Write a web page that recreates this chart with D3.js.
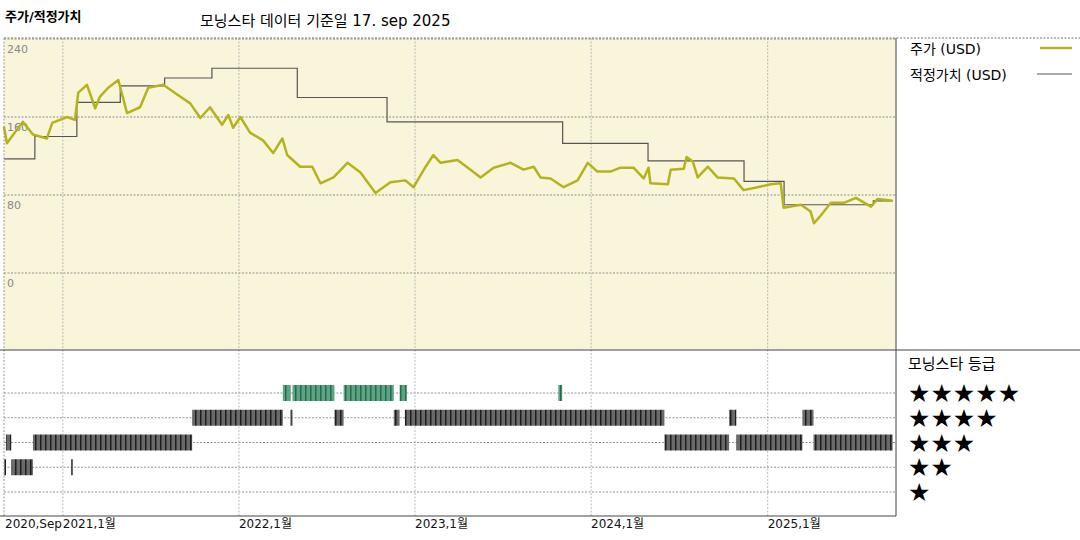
<!DOCTYPE html>
<html><head><meta charset="utf-8">
<script src="https://cdn.jsdelivr.net/npm/d3@7"></script>
<style>body{margin:0;background:#fff}svg{font-family:"DejaVu Sans","Noto Sans CJK KR",sans-serif}</style>
</head><body><svg id="c" width="1080" height="540"></svg>
<script>
// price (USD)
var priceDates = ["2020-09-01","2020-09-07","2020-10-10","2020-10-31","2020-11-29","2020-12-10","2021-01-10","2021-01-26","2021-02-02","2021-02-20","2021-03-09","2021-03-19","2021-04-05","2021-04-26","2021-05-14","2021-06-10","2021-06-27","2021-07-28","2021-08-26","2021-09-22","2021-10-13","2021-11-02","2021-11-27","2021-12-10","2021-12-20","2022-01-04","2022-01-24","2022-02-20","2022-03-13","2022-04-01","2022-04-11","2022-05-08","2022-06-02","2022-06-19","2022-07-16","2022-08-14","2022-09-10","2022-10-11","2022-11-11","2022-12-12","2022-12-29","2023-01-23","2023-02-08","2023-02-23","2023-03-30","2023-04-26","2023-05-17","2023-06-13","2023-07-18","2023-08-14","2023-09-04","2023-09-18","2023-10-09","2023-11-05","2023-12-04","2023-12-25","2024-01-14","2024-02-10","2024-03-02","2024-03-29","2024-04-19","2024-04-29","2024-05-03","2024-06-08","2024-06-14","2024-07-11","2024-07-17","2024-07-30","2024-08-09","2024-08-30","2024-09-19","2024-10-23","2024-11-12","2024-12-11","2025-01-07","2025-01-28","2025-02-03","2025-03-11","2025-03-31","2025-04-07","2025-04-21","2025-05-12","2025-06-08","2025-07-03","2025-08-03","2025-08-17","2025-09-17"];
var priceValues = [150,133,155,142,138,154,160,157,185,193,169,181,190,198,164,170,190,193,183,174,159,170,152,162,149,160,144,136,123,138,121,109,109,92,98,113,103,82,93,95,88,109,121,113,116,106,98,108,113,106,109,98,97,88,95,113,104,104,108,108,97,108,92,91,106,107,119,114,98,109,98,97,85,88,91,92,67,70,63,51,59,72,72,77,68,76,74];

// fair value (USD), step changes
var fairDates = ["2020-09-01","2020-11-04","2021-01-30","2021-04-30","2021-07-31","2021-11-06","2022-05-02","2022-11-04","2023-11-03","2024-04-28","2024-11-13","2025-02-04","2025-08-08","2025-09-17"];
var fairValues = [117,140,175,192,200,210,180,155,133,115,94,70,74,74];

// star rating periods [stars, from, to]
var ratingSpans = [
  [5,"2022-04-02","2022-04-18"],[5,"2022-04-22","2022-07-18"],[5,"2022-08-06","2022-11-18"],[5,"2022-11-30","2022-12-15"],[5,"2023-10-25","2023-11-02"],
  [4,"2021-09-26","2022-04-02"],[4,"2022-04-18","2022-04-22"],[4,"2022-07-18","2022-08-06"],[4,"2022-11-18","2022-11-30"],[4,"2022-12-11","2024-06-01"],[4,"2024-10-13","2024-10-28"],[4,"2025-03-14","2025-04-06"],
  [3,"2020-09-05","2020-09-16"],[3,"2020-10-31","2021-09-26"],[3,"2024-06-01","2024-10-13"],[3,"2024-10-28","2025-03-14"],[3,"2025-04-06","2025-09-17"],
  [2,"2020-09-01","2020-09-05"],[2,"2020-09-16","2020-10-31"],[2,"2021-01-18","2021-01-22"]
];

var yTicks = [240,160,80,0];
var xTickDates = ["2020-09-01","2021-01-01","2022-01-01","2023-01-01","2024-01-01","2025-01-01"];
var xTickLabels = ["2020,Sep","2021,1월","2022,1월","2023,1월","2024,1월","2025,1월"];
var starRows = [5,4,3,2,1];

var parse = d3.timeParse("%Y-%m-%d");
var svg = d3.select("#c");
var pLeft = 4, pRight = 896, pTop = 38, pMid = 350, pBottom = 516;

var x = d3.scaleTime().domain([parse("2020-09-01"), parse("2025-09-24")]).range([pLeft, pRight]);
var y = d3.scaleLinear().domain([0, 240]).range([273, 39]);
var yr = d3.scalePoint().domain(starRows).range([393, 492]);

// pattern for rating bars
var defs = svg.append("defs");
[["pDark","#6a6a6a","#1e1e1e"],["pGreen","#5fa383","#1f6e4c"]].forEach(function (p) {
    var pat = defs.append("pattern").attr("id", p[0]).attr("patternUnits", "userSpaceOnUse")
        .attr("width", 5).attr("height", 20);
    pat.append("rect").attr("width", 5).attr("height", 20).attr("fill", p[1]);
    pat.append("rect").attr("width", 1.5).attr("height", 20).attr("fill", p[2]);
});

svg.append("rect").attr("x", pLeft).attr("y", pTop).attr("width", pRight - pLeft).attr("height", pMid - pTop).attr("fill", "#f8f5da");

// grid
svg.selectAll("line.hg").data(yTicks).enter().append("line")
    .attr("x1", pLeft).attr("x2", pRight).attr("y1", function (d) { return y(d); }).attr("y2", function (d) { return y(d); })
    .attr("stroke", "#777").attr("stroke-dasharray", "2,1.5").attr("stroke-width", 0.8);
svg.selectAll("line.rg").data(starRows).enter().append("line")
    .attr("x1", pLeft).attr("x2", pRight).attr("y1", function (d) { return yr(d); }).attr("y2", function (d) { return yr(d); })
    .attr("stroke", "#777").attr("stroke-dasharray", "2,1.5").attr("stroke-width", 0.8);
svg.selectAll("line.vg").data(xTickDates.slice(1)).enter().append("line")
    .attr("x1", function (d) { return x(parse(d)); }).attr("x2", function (d) { return x(parse(d)); })
    .attr("y1", pTop).attr("y2", pBottom).attr("stroke", "#aaa").attr("stroke-dasharray", "2,1.5").attr("stroke-width", 0.8);

svg.selectAll("text.yl").data(yTicks).enter().append("text")
    .attr("x", pLeft + 3).attr("y", function (d) { return y(d) + 14; })
    .attr("font-size", 11).attr("fill", "#888").text(function (d) { return d; });

// fair value
var fair = fairDates.map(function (d, i) { return { t: parse(d), v: fairValues[i] }; });
svg.append("path").datum(fair).attr("fill", "none").attr("stroke", "#555").attr("stroke-width", 1.2)
    .attr("d", d3.line().curve(d3.curveStepAfter).x(function (d) { return x(d.t); }).y(function (d) { return y(d.v); }));

// price
var price = priceDates.map(function (d, i) { return { t: parse(d), v: priceValues[i] }; });
svg.append("path").datum(price).attr("fill", "none").attr("stroke", "#b3b41c").attr("stroke-width", 2.5)
    .attr("stroke-linejoin", "round")
    .attr("d", d3.line().x(function (d) { return x(d.t); }).y(function (d) { return y(d.v); }));

// ratings
svg.selectAll("rect.rt").data(ratingSpans).enter().append("rect")
    .attr("x", function (d) { return x(parse(d[1])); })
    .attr("width", function (d) { return Math.max(2, x(parse(d[2])) - x(parse(d[1]))); })
    .attr("y", function (d) { return yr(d[0]) - 8; }).attr("height", 16)
    .attr("fill", function (d) { return d[0] == 5 ? "url(#pGreen)" : "url(#pDark)"; });

// frame
svg.append("line").attr("x1", pLeft).attr("x2", 1080).attr("y1", pTop).attr("y2", pTop).attr("stroke", "#777").attr("stroke-dasharray", "2,1.5");
svg.append("line").attr("x1", pLeft).attr("x2", pLeft).attr("y1", pTop).attr("y2", pBottom).attr("stroke", "#999").attr("stroke-dasharray", "2,1.5");
svg.append("line").attr("x1", 0).attr("x2", 1080).attr("y1", pMid).attr("y2", pMid).attr("stroke", "#444");
svg.append("line").attr("x1", pRight).attr("x2", pRight).attr("y1", pTop).attr("y2", pBottom).attr("stroke", "#444");
svg.append("line").attr("x1", 0).attr("x2", pRight).attr("y1", pBottom).attr("y2", pBottom).attr("stroke", "#444");

svg.selectAll("text.xl").data(xTickDates).enter().append("text")
    .attr("x", function (d, i) { return x(parse(d)) + (i == 0 ? 1 : 0); }).attr("y", 528)
    .attr("font-size", 12).attr("fill", "#111").text(function (d, i) { return xTickLabels[i]; });

// titles
svg.append("text").attr("x", 5).attr("y", 21).attr("font-size", 13).attr("font-weight", "bold").text("주가/적정가치");
svg.append("text").attr("x", 200).attr("y", 26).attr("font-size", 15).text("모닝스타 데이터 기준일 17. sep 2025");

// legend
svg.append("text").attr("x", 910).attr("y", 54).attr("font-size", 14).text("주가 (USD)");
svg.append("line").attr("x1", 1040).attr("x2", 1072).attr("y1", 48).attr("y2", 48).attr("stroke", "#b3b41c").attr("stroke-width", 2.5);
svg.append("text").attr("x", 910).attr("y", 80).attr("font-size", 14).text("적정가치 (USD)");
svg.append("line").attr("x1", 1037).attr("x2", 1072).attr("y1", 74).attr("y2", 74).attr("stroke", "#555").attr("stroke-width", 1);
svg.append("text").attr("x", 908).attr("y", 369).attr("font-size", 15).text("모닝스타 등급");
svg.selectAll("text.st").data(starRows).enter().append("text")
    .attr("x", 908).attr("y", function (d) { return yr(d) + 9; })
    .attr("font-size", 25).attr("fill", "#000")
    .text(function (d) { return d3.range(d).map(function () { return "★"; }).join(""); });
</script></body></html>
